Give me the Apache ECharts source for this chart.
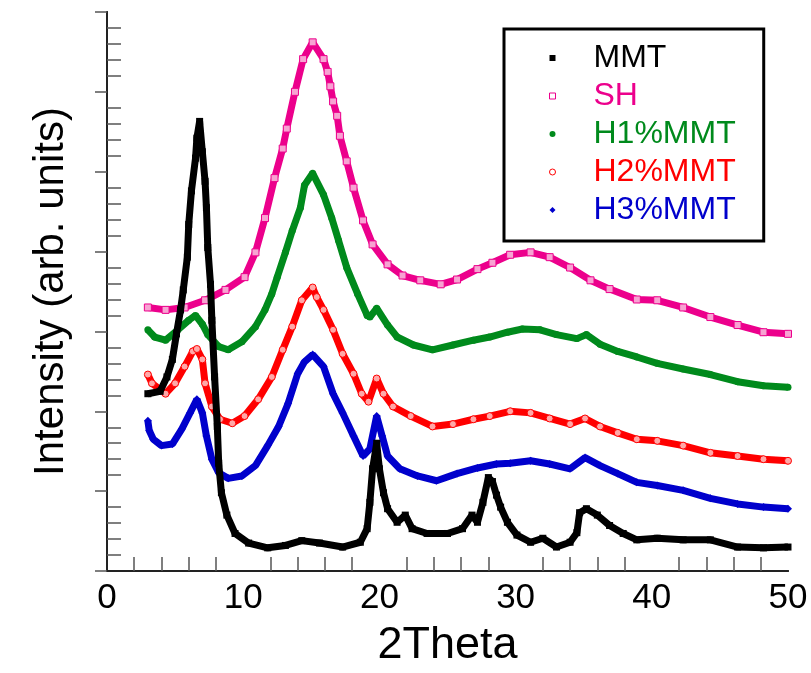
<!DOCTYPE html>
<html>
<head>
<meta charset="utf-8">
<script src="https://cdn.jsdelivr.net/npm/echarts@6/dist/echarts.min.js"></script>
<style>
  html, body { margin: 0; padding: 0; background: #fff; }
  #chart { width: 811px; height: 673px; }
</style>
</head>
<body>
<div id="chart"></div>
<script>
// values: [2theta, intensity (arb. units)]
const seriesNames = ['MMT', 'SH', 'H1%MMT', 'H2%MMT', 'H3%MMT']
const seriesColors = ['#000000', '#ec008c', '#008a1c', '#ff0000', '#0000cc']
const hollowFill = ['', '#f7a3d2', '', '#ffa8a8', '']
const xTicks = [0, 10, 20, 30, 40, 50]

const mmt = [
  [3.0, 2.22], [3.9, 2.25], [4.4, 2.43], [4.8, 2.65], [5.1, 2.97], [5.4, 3.27], [5.6, 3.52],
  [5.9, 3.93], [6.0, 4.34], [6.2, 4.76], [6.5, 5.17], [6.6, 5.42], [6.8, 5.63], [7.0, 5.25],
  [7.2, 4.88], [7.3, 4.55], [7.4, 4.05], [7.6, 3.59], [7.7, 3.14], [7.9, 2.43], [8.1, 1.81],
  [8.2, 1.35], [8.4, 0.98], [8.8, 0.70], [9.4, 0.47], [10.4, 0.35], [11.8, 0.29], [13.1, 0.32],
  [14.3, 0.38], [15.6, 0.35], [17.3, 0.30], [18.6, 0.36], [19.1, 0.53], [19.3, 0.86], [19.5, 1.28],
  [19.8, 1.60], [20.0, 1.28], [20.3, 0.98], [20.6, 0.78], [21.3, 0.61], [21.9, 0.70], [22.4, 0.53],
  [23.5, 0.47], [25.0, 0.47], [26.1, 0.53], [26.8, 0.70], [27.2, 0.61], [27.6, 0.86], [28.0, 1.17],
  [28.3, 1.12], [28.6, 0.95], [28.9, 0.80], [29.4, 0.61], [30.1, 0.45], [31.1, 0.36], [32.0, 0.41],
  [33.0, 0.30], [34.0, 0.36], [34.5, 0.48], [34.7, 0.73], [35.2, 0.78], [36.0, 0.70], [36.9, 0.57],
  [37.9, 0.47], [38.9, 0.39], [40.4, 0.41], [42.3, 0.39], [44.3, 0.39], [46.3, 0.30], [48.2, 0.29],
  [50.0, 0.30]
]

const sh = [
  [3.0, 3.30], [4.3, 3.27], [5.7, 3.30], [7.2, 3.39], [8.7, 3.52], [10.1, 3.68], [10.9, 3.99],
  [11.6, 4.42], [12.3, 4.92], [12.9, 5.29], [13.2, 5.54], [13.8, 6.00], [14.4, 6.41], [15.1, 6.62],
  [15.9, 6.41], [16.2, 6.25], [16.4, 6.07], [16.6, 5.88], [16.9, 5.70], [17.1, 5.45], [17.6, 5.13],
  [18.1, 4.80], [18.8, 4.39], [19.5, 4.09], [20.6, 3.84], [21.7, 3.70], [23.0, 3.64], [24.5, 3.59],
  [25.7, 3.65], [27.2, 3.78], [28.3, 3.86], [29.6, 3.96], [31.1, 3.99], [32.5, 3.93], [34.0, 3.80],
  [35.5, 3.64], [36.9, 3.53], [38.9, 3.40], [40.4, 3.39], [42.3, 3.30], [44.3, 3.18], [46.3, 3.08],
  [48.2, 2.99], [50.0, 2.97]
]

const h1 = [
  [3.0, 3.02], [3.5, 2.93], [4.3, 2.89], [5.2, 3.02], [6.0, 3.14], [6.5, 3.20], [7.0, 3.09],
  [7.4, 2.96], [8.2, 2.81], [8.9, 2.77], [9.9, 2.87], [10.9, 3.06], [11.6, 3.27], [12.1, 3.47],
  [12.5, 3.68], [13.1, 3.99], [13.6, 4.26], [14.2, 4.55], [14.5, 4.83], [15.1, 4.98], [15.9, 4.71],
  [16.5, 4.42], [17.0, 4.14], [17.6, 3.80], [18.4, 3.47], [19.1, 3.20], [19.3, 3.18], [19.8, 3.29],
  [20.6, 3.08], [21.3, 2.93], [22.5, 2.83], [23.9, 2.77], [25.4, 2.83], [26.9, 2.89], [28.1, 2.93],
  [29.4, 2.99], [30.5, 3.03], [31.8, 3.02], [33.0, 2.96], [34.5, 2.91], [35.2, 2.96], [36.2, 2.84],
  [37.5, 2.75], [38.9, 2.68], [40.4, 2.60], [42.3, 2.53], [44.3, 2.46], [46.3, 2.37], [48.2, 2.32],
  [50.0, 2.30]
]

const h2 = [
  [3.0, 2.46], [3.3, 2.35], [4.3, 2.22], [5.0, 2.35], [5.7, 2.56], [6.3, 2.75], [6.6, 2.78],
  [7.0, 2.65], [7.2, 2.35], [7.7, 2.06], [8.3, 1.90], [9.2, 1.85], [10.1, 1.94], [11.1, 2.15],
  [12.1, 2.43], [12.9, 2.77], [13.6, 3.06], [14.3, 3.39], [15.1, 3.55], [15.4, 3.43], [15.9, 3.27],
  [16.6, 3.02], [17.3, 2.72], [18.1, 2.47], [18.7, 2.22], [19.2, 2.12], [19.8, 2.41], [20.3, 2.22],
  [21.0, 2.06], [22.3, 1.94], [23.9, 1.81], [25.4, 1.84], [26.9, 1.90], [28.1, 1.94], [29.6, 2.00],
  [31.1, 1.98], [32.5, 1.91], [34.0, 1.84], [35.1, 1.91], [36.2, 1.81], [37.5, 1.73], [38.9, 1.65],
  [40.4, 1.63], [42.3, 1.57], [44.3, 1.48], [46.3, 1.44], [48.2, 1.40], [50.0, 1.38]
]

const h3 = [
  [3.0, 1.88], [3.1, 1.76], [3.4, 1.65], [4.0, 1.57], [4.8, 1.59], [5.5, 1.78], [6.1, 1.98],
  [6.6, 2.15], [7.0, 1.98], [7.3, 1.69], [7.7, 1.40], [8.2, 1.23], [8.9, 1.16], [9.9, 1.19],
  [10.9, 1.32], [11.8, 1.57], [12.6, 1.81], [13.3, 2.10], [14.0, 2.47], [14.5, 2.62], [15.1, 2.71],
  [15.9, 2.56], [16.6, 2.22], [17.3, 1.98], [18.1, 1.69], [18.8, 1.44], [19.3, 1.53], [19.8, 1.94],
  [20.2, 1.69], [20.6, 1.44], [21.5, 1.28], [22.8, 1.19], [24.2, 1.13], [25.7, 1.22], [27.2, 1.29],
  [28.6, 1.34], [29.6, 1.35], [31.1, 1.38], [32.5, 1.34], [34.0, 1.28], [35.1, 1.42], [36.2, 1.32],
  [37.5, 1.22], [38.9, 1.11], [40.4, 1.07], [42.3, 1.01], [44.3, 0.91], [46.3, 0.84], [48.2, 0.80],
  [50.0, 0.78]
]

const seriesData = [mmt, sh, h1, h2, h3]
const seriesSymbols = ['rect', 'rect', 'circle', 'circle', 'diamond']
const hollow = [false, true, false, true, false]

const font = 'Liberation Sans, Arial, sans-serif'
const chart = echarts.init(document.getElementById('chart'))

const axisLine = { show: true, lineStyle: { color: '#222', width: 2 } }
const minorLen = 7
const minorOut = { show: true, splitNumber: 5, length: minorLen, lineStyle: { color: '#555', width: 1.5 } }

// an invisible axis pulled inside the plot by the tick length; its outward
// minor ticks then end on the frame, so they read as inward ticks
function tickAxis(position, max, interval) {
  return {
    type: 'value', position, min: 0, max, interval,
    offset: -minorLen,
    axisLine: { show: false },
    axisTick: { show: false },
    minorTick: minorOut,
    axisLabel: { show: false },
    splitLine: { show: false }
  }
}

function frameAxis(position, max, interval) {
  return {
    type: 'value', position, min: 0, max, interval,
    axisLine,
    axisTick: { show: false },
    axisLabel: { show: false },
    splitLine: { show: false }
  }
}

const series = seriesNames.map((name, i) => ({
  name,
  type: 'line',
  data: seriesData[i],
  xAxisIndex: 0,
  yAxisIndex: 0,
  symbol: seriesSymbols[i],
  symbolSize: i === 4 ? 8 : 7,
  showSymbol: true,
  z: i === 0 ? 5 : 3,
  lineStyle: { color: seriesColors[i], width: 7 },
  itemStyle: hollow[i]
    ? { color: hollowFill[i], borderColor: seriesColors[i], borderWidth: 1 }
    : { color: seriesColors[i] },
  emphasis: { disabled: true }
}))

chart.setOption({
  animation: false,
  textStyle: { fontFamily: font },
  grid: { left: 107, right: 23, top: 12, bottom: 97, containLabel: false },
  legend: {
    orient: 'vertical',
    left: 504,
    top: 29,
    padding: [13, 28, 15, 45],
    borderColor: '#000',
    borderWidth: 3,
    itemGap: 6,
    itemWidth: 6,
    itemHeight: 6,
    selectedMode: false,
    data: seriesNames.map((name, i) => ({
      name,
      icon: seriesSymbols[i],
      itemStyle: hollow[i]
        ? { color: '#fff', borderColor: seriesColors[i], borderWidth: 1 }
        : { color: seriesColors[i], borderWidth: 0 },
      textStyle: { color: seriesColors[i] }
    })),
    textStyle: { fontSize: 32, fontFamily: font, padding: [0, 0, 0, 33] }
  },
  xAxis: [
    {
      type: 'value', position: 'bottom', min: xTicks[0], max: xTicks[xTicks.length - 1], interval: 10,
      name: '2Theta', nameLocation: 'middle', nameGap: 52,
      nameTextStyle: { fontSize: 45, color: '#000', fontFamily: font },
      axisLine,
      axisTick: { show: false },
      axisLabel: { fontSize: 35, color: '#000', margin: 10, fontFamily: font },
      splitLine: { show: false }
    },
    frameAxis('top', 50, 10),
    tickAxis('bottom', 50, 10),
    tickAxis('top', 50, 10)
  ],
  yAxis: [
    {
      type: 'value', position: 'left', min: 0, max: 7, interval: 1,
      name: 'Intensity (arb. units)', nameLocation: 'middle', nameGap: 35,
      nameTextStyle: { fontSize: 42, color: '#000', fontFamily: font },
      axisLine,
      axisTick: { show: true, inside: false, length: 12, lineStyle: { color: '#555', width: 1.5 } },
      axisLabel: { show: false },
      splitLine: { show: false }
    },
    frameAxis('right', 7, 1),
    tickAxis('left', 7, 1),
    tickAxis('right', 7, 1)
  ],
  series
})
</script>
</body>
</html>
